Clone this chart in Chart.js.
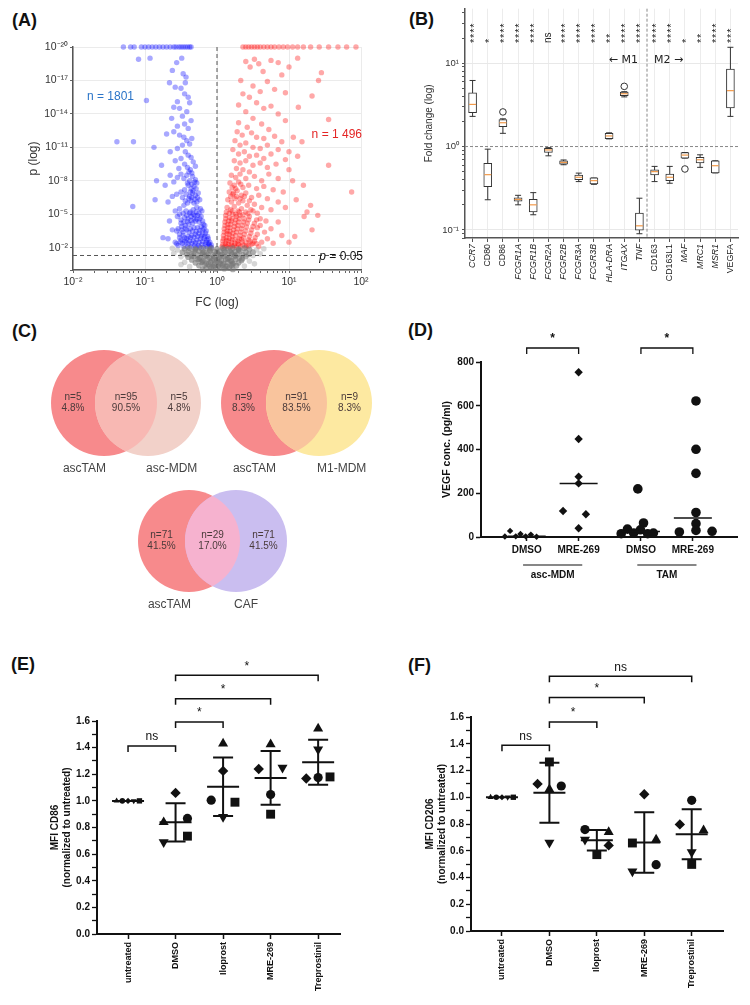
<!DOCTYPE html>
<html>
<head>
<meta charset="utf-8">
<script src="https://cdn.jsdelivr.net/npm/chart.js@4.4.0/dist/chart.umd.min.js"></script>
<style>
  body { margin: 0; background: #fff; width: 750px; height: 1005px; position: relative; overflow: hidden; }
  canvas { position: absolute; }
  .lbl { position: absolute; font: bold 18px "Liberation Sans", Arial, sans-serif; color: #111; line-height: 18px; }
</style>
</head>
<body>
<div class="lbl" style="left:12px;top:11px">(A)</div>
<div class="lbl" style="left:409px;top:10px">(B)</div>
<div class="lbl" style="left:12px;top:322px">(C)</div>
<div class="lbl" style="left:408px;top:321px">(D)</div>
<div class="lbl" style="left:11px;top:655px">(E)</div>
<div class="lbl" style="left:408px;top:656px">(F)</div>

<canvas id="cA" width="375" height="310" style="left:0;top:0"></canvas>
<canvas id="cB" width="375" height="310" style="left:375px;top:0"></canvas>
<canvas id="cC" width="375" height="320" style="left:0;top:310px"></canvas>
<canvas id="cD" width="375" height="280" style="left:375px;top:310px"></canvas>
<canvas id="cE" width="375" height="375" style="left:0;top:630px"></canvas>
<canvas id="cF" width="375" height="375" style="left:375px;top:630px"></canvas>

<script>
// ---------- (A) volcano plot, points as [log10 FC, -log10 p] ----------
const bluePoints = [
  [-1.3,20],[-1.2,20],[-1.15,20],[-1.05,20],[-1.0,20],[-0.95,20],[-0.9,20],[-0.85,20],[-0.8,20],[-0.75,20],[-0.7,20],
  [-0.65,20],[-0.6,20],[-0.57,20],[-0.53,20],[-0.5,20],[-0.47,20],[-0.44,20],[-0.41,20],[-0.38,20],[-0.36,20],
  [-1.09,18.9],[-0.93,19],[-0.49,19],[-0.56,18.6],[-0.62,17.9],[-0.47,17.6],[-0.43,17.3],[-0.44,16.8],[-0.58,16.4],
  [-0.5,16.3],[-0.66,16.8],[-0.45,15.8],[-0.4,15.5],[-0.55,15.1],[-0.38,15.0],[-0.98,15.2],[-0.6,14.6],[-0.52,14.5],
  [-0.42,14.2],[-0.48,13.8],[-0.63,13.6],[-0.36,13.4],[-0.45,13.1],[-0.55,12.9],[-0.4,12.7],
  [-1.39,11.5],[-1.16,11.5],[-0.875,11],[-0.77,9.4],[-0.7,12.2],[-0.6,12.4],[-0.52,12.1],[-0.46,11.9],[-0.42,11.6],
  [-0.38,11.3],[-0.35,11.8],[-0.48,11.2],[-0.55,10.9],[-0.65,10.6],[-0.44,10.6],[-0.4,10.3],[-0.36,10.1],[-0.5,10.0],
  [-0.58,9.8],[-0.33,9.7],[-0.45,9.5],[-0.41,9.2],[-0.37,9.0],[-0.53,9.1],[-0.3,9.3],
  [-0.84,8],[-0.86,6.3],[-1.17,5.7],[-0.72,7.6],[-0.65,8.5],[-0.6,7.9],[-0.55,8.3],[-0.5,8.6],[-0.46,8.2],[-0.42,8.5],
  [-0.38,8.0],[-0.34,8.4],[-0.3,8.1],[-0.28,7.8],[-0.32,7.5],[-0.36,7.3],[-0.4,7.6],[-0.45,7.2],[-0.5,7.0],[-0.56,6.8],
  [-0.62,6.6],[-0.68,6.1],[-0.48,6.5],[-0.43,6.8],[-0.38,6.6],[-0.34,6.9],[-0.3,6.7],[-0.26,6.9],[-0.24,6.3],[-0.28,6.1],
  [-0.32,6.0],[-0.36,6.2],[-0.41,6.0],[-0.46,5.8],[-0.52,5.5],[-0.58,5.3],[-0.28,5.6],[-0.23,5.5],[-0.33,5.4],[-0.38,5.1],
  [-0.43,5.3],
  [-0.75,2.9],[-0.68,2.8],[-0.62,3.6],[-0.66,4.4],[-0.55,4.8],[-0.5,4.5],[-0.45,4.7],[-0.4,4.6],[-0.36,4.8],[-0.31,4.9],
  [-0.27,4.9],[-0.22,4.8],[-0.2,4.4],[-0.25,4.3],[-0.3,4.4],[-0.34,4.2],[-0.39,4.1],[-0.44,4.0],[-0.49,3.9],[-0.56,3.5],
  [-0.52,3.2],[-0.47,3.4],[-0.42,3.6],[-0.37,3.7],[-0.32,3.8],[-0.27,3.8],[-0.22,3.9],[-0.18,3.7],[-0.16,3.3],[-0.2,3.2],
  [-0.25,3.3],[-0.3,3.2],[-0.35,3.1],[-0.4,3.0],[-0.45,2.9],[-0.5,2.7],[-0.58,2.5],[-0.54,2.2],[-0.48,2.4],[-0.43,2.5],
  [-0.38,2.6],[-0.33,2.6],[-0.28,2.7],[-0.23,2.8],[-0.18,2.8],[-0.14,2.7],[-0.12,2.4],[-0.16,2.3],[-0.21,2.3],[-0.26,2.2],
  [-0.31,2.2],[-0.36,2.1],[-0.41,2.1],[-0.46,2.1],[-0.1,2.1],[-0.08,2.05],[-0.14,2.1],[-0.19,2.05],[-0.24,2.05],[-0.29,2.05],
  [-0.52,5.0],[-0.47,5.1],[-0.42,4.9],[-0.37,5.2],[-0.33,5.0],[-0.29,5.2],[-0.25,5.1],[-0.21,5.3],
  [-0.5,4.2],[-0.46,4.3],[-0.41,4.35],[-0.36,4.45],[-0.32,4.6],[-0.28,4.55],[-0.24,4.6],[-0.19,4.1],[-0.17,4.0],
  [-0.54,3.7],[-0.49,3.6],[-0.44,3.75],[-0.39,3.4],[-0.34,3.5],[-0.29,3.45],[-0.24,3.55],[-0.2,3.6],[-0.15,3.5],[-0.13,3.0],
  [-0.52,2.9],[-0.47,3.1],[-0.42,2.8],[-0.37,2.9],[-0.32,2.95],[-0.27,3.0],[-0.22,3.05],[-0.17,3.0],[-0.12,2.8],[-0.1,2.5],
  [-0.56,2.35],[-0.51,2.5],[-0.45,2.6],[-0.4,2.35],[-0.35,2.4],[-0.3,2.45],[-0.25,2.5],[-0.2,2.55],[-0.15,2.5],[-0.11,2.3],
  [-0.08,2.25],[-0.44,6.2],[-0.39,6.4],[-0.35,6.5],[-0.31,6.35],[-0.27,6.5],[-0.33,7.1],[-0.29,7.3],[-0.37,7.0],[-0.41,7.8],
  [-0.35,7.7],[-0.31,7.9],[-0.39,8.8],[-0.35,8.7]
];
const redPoints = [
  [0.36,20],[0.4,20],[0.44,20],[0.48,20],[0.52,20],[0.56,20],[0.6,20],[0.65,20],[0.7,20],[0.75,20],[0.8,20],[0.86,20],
  [0.92,20],[0.98,20],[1.05,20],[1.12,20],[1.2,20],[1.3,20],[1.42,20],[1.55,20],[1.68,20],[1.8,20],[1.93,20],
  [0.4,18.7],[0.52,18.9],[0.46,18.2],[0.58,18.5],[0.75,18.8],[0.85,18.6],[0.64,17.8],[0.9,17.5],[1.0,18.2],[1.12,19.0],
  [1.45,17.7],[1.41,17.0],[0.33,17.0],[0.5,16.5],[0.7,16.9],[0.8,16.2],[0.6,16.0],[0.36,15.8],[0.45,15.5],[0.95,15.9],
  [1.32,15.6],[0.55,15.0],[0.3,14.8],[0.65,14.5],[0.75,14.7],[1.13,14.6],[0.4,14.2],[0.85,14.0],[1.55,13.5],[0.5,13.6],
  [0.3,13.2],[0.62,13.1],[0.95,13.4],[0.42,12.8],[0.72,12.6],
  [1.06,11.9],[1.18,11.5],[1.55,9.4],[0.28,12.4],[0.35,12.1],[0.48,12.3],[0.55,11.9],[0.65,11.8],[0.8,12.0],[0.9,11.5],
  [0.25,11.6],[0.32,11.2],[0.4,11.4],[0.5,11.0],[0.6,10.9],[0.7,11.2],[0.85,10.8],[1.0,10.6],[0.22,10.8],[0.3,10.4],
  [0.38,10.6],[0.45,10.2],[0.55,10.3],[0.65,10.0],[0.75,10.4],[0.95,9.9],[1.12,10.2],[0.24,9.8],[0.32,9.6],[0.4,9.8],
  [0.5,9.4],[0.6,9.6],[0.7,9.2],[0.82,9.5],[1.0,9.0],[0.27,9.1],[0.36,9.0],[0.45,8.8],
  [1.87,7.0],[0.2,8.5],[0.26,8.3],[0.32,8.6],[0.4,8.2],[0.52,8.4],[0.62,8.0],[0.72,8.6],[0.85,8.2],[1.05,8.0],[1.2,7.6],
  [0.18,7.8],[0.24,7.6],[0.3,7.9],[0.36,7.4],[0.44,7.6],[0.55,7.3],[0.65,7.5],[0.78,7.2],[0.92,7.0],[0.17,7.0],[0.22,6.8],
  [0.28,7.1],[0.34,6.7],[0.4,6.9],[0.48,6.5],[0.58,6.7],[0.7,6.4],[0.85,6.1],[1.1,6.3],[1.3,5.8],[0.15,6.3],[0.2,6.1],
  [0.25,6.4],[0.3,6.0],[0.36,6.2],[0.42,5.8],[0.52,5.9],[0.62,5.6],[0.75,5.4],[0.95,5.6],[0.14,5.6],[0.19,5.4],[0.24,5.7],
  [0.29,5.3],[0.34,5.5],[0.4,5.2],[0.47,5.4],[0.56,5.1],[1.25,5.2],[1.4,4.9],
  [1.32,3.6],[1.21,4.8],[1.08,3.0],[1.0,2.5],[0.12,4.9],[0.17,4.7],[0.22,5.0],[0.27,4.8],[0.32,4.9],[0.38,4.6],[0.45,4.8],
  [0.55,4.5],[0.68,4.4],[0.85,4.3],[0.11,4.3],[0.15,4.1],[0.2,4.4],[0.25,4.2],[0.3,4.3],[0.35,4.0],[0.42,4.2],[0.5,3.9],
  [0.6,4.0],[0.75,3.7],[0.1,3.7],[0.14,3.5],[0.18,3.8],[0.23,3.6],[0.28,3.7],[0.33,3.4],[0.4,3.5],[0.47,3.3],[0.56,3.2],
  [0.66,3.4],[0.9,3.1],[0.09,3.1],[0.13,2.9],[0.17,3.2],[0.21,3.0],[0.26,3.1],[0.31,2.8],[0.37,2.9],[0.44,2.7],[0.52,2.6],
  [0.62,2.5],[0.78,2.4],[0.08,2.6],[0.12,2.4],[0.16,2.6],[0.2,2.5],[0.25,2.4],[0.3,2.3],[0.35,2.5],[0.41,2.2],[0.48,2.3],
  [0.58,2.1],[0.07,2.1],[0.1,2.05],[0.14,2.1],[0.18,2.05],[0.22,2.1],[0.27,2.05],[0.33,2.1],[0.4,2.05],
  [0.13,5.2],[0.17,5.1],[0.21,5.3],[0.26,5.0],[0.31,5.2],[0.36,4.95],[0.43,5.05],[0.5,5.3],
  [0.12,4.6],[0.16,4.4],[0.21,4.6],[0.26,4.5],[0.31,4.6],[0.37,4.3],[0.44,4.5],[0.52,4.2],[0.6,4.6],
  [0.11,4.0],[0.15,3.8],[0.19,4.1],[0.24,3.9],[0.29,4.0],[0.34,3.7],[0.41,3.85],[0.48,3.6],[0.56,3.8],
  [0.1,3.4],[0.14,3.25],[0.18,3.45],[0.22,3.3],[0.27,3.4],[0.32,3.1],[0.38,3.2],[0.45,3.0],[0.53,2.9],[0.7,2.8],
  [0.09,2.8],[0.13,2.65],[0.17,2.85],[0.21,2.75],[0.25,2.7],[0.29,2.6],[0.34,2.75],[0.4,2.5],[0.46,2.55],[0.55,2.35],
  [0.08,2.3],[0.12,2.2],[0.16,2.3],[0.2,2.25],[0.24,2.2],[0.29,2.35],[0.36,2.25],[0.44,2.15],[0.5,2.4],
  [0.19,6.6],[0.23,6.9],[0.27,6.6],[0.32,6.4],[0.38,6.6],[0.45,6.2],[0.21,7.4],[0.26,7.3],[0.33,7.7]
];
const greyPoints = [
  [-0.45,1.9],[-0.38,1.95],[-0.3,1.9],[-0.22,1.95],[-0.15,1.9],[-0.08,1.95],[0,1.9],[0.08,1.95],[0.15,1.9],[0.22,1.95],
  [0.3,1.9],[0.38,1.95],[0.45,1.85],[-0.48,1.6],[-0.4,1.7],[-0.32,1.65],[-0.25,1.7],[-0.18,1.6],[-0.1,1.7],[-0.03,1.65],
  [0.04,1.7],[0.11,1.6],[0.18,1.7],[0.25,1.65],[0.32,1.7],[0.4,1.6],[0.5,1.6],[-0.42,1.4],[-0.35,1.45],[-0.27,1.35],
  [-0.2,1.45],[-0.13,1.4],[-0.06,1.35],[0.01,1.45],[0.07,1.4],[0.14,1.35],[0.21,1.45],[0.28,1.4],[0.36,1.35],[0.44,1.4],
  [-0.4,1.15],[-0.32,1.2],[-0.24,1.1],[-0.17,1.2],[-0.1,1.1],[-0.04,1.2],[0.03,1.1],[0.1,1.2],[0.17,1.1],[0.24,1.2],
  [0.31,1.1],[0.4,1.2],[-0.35,0.9],[-0.27,0.95],[-0.2,0.85],[-0.13,0.95],[-0.07,0.85],[0,0.95],[0.06,0.85],[0.12,0.95],
  [0.19,0.85],[0.26,0.95],[0.34,0.85],[-0.3,0.65],[-0.22,0.7],[-0.15,0.6],[-0.09,0.7],[-0.03,0.6],[0.03,0.7],[0.09,0.6],
  [0.15,0.7],[0.22,0.6],[0.3,0.65],[-0.25,0.4],[-0.17,0.45],[-0.1,0.35],[-0.04,0.45],[0.02,0.35],[0.08,0.45],[0.14,0.35],
  [0.2,0.42],[0.27,0.38],[-0.15,0.15],[-0.08,0.2],[-0.02,0.1],[0.04,0.2],[0.1,0.12],[0.17,0.18],[-0.2,0.05],[0.22,0.05],
  [-0.3,1.8],[-0.1,1.8],[0.1,1.8],[0.3,1.8],[-0.2,1.55],[0,1.55],[0.2,1.55],[-0.35,1.25],[-0.15,1.3],[0.05,1.3],
  [0.25,1.3],[-0.25,1.0],[-0.05,1.0],[0.15,1.0],[0.35,1.0],[-0.2,0.75],[0,0.8],[0.2,0.8],[-0.12,0.5],[0.05,0.55],
  [0.22,0.5],[-0.05,0.28],[0.12,0.3]
];
const greyLightPoints = [
  [-0.55,1.8],[0.55,1.8],[-0.5,1.2],[0.5,1.3],[-0.6,1.5],[0.6,1.45],[-0.45,0.7],[0.45,0.8],[-0.38,0.3],[0.38,0.35],
  [0.65,1.9],[-0.62,1.95],[0.52,0.55],[-0.5,0.5]
];
const volcanoCounts = { down: 1801, up: 1496 };

// ---------- (B) box plots ----------
const genes = ['CCR7','CD80','CD86','FCGR1A','FCGR1B','FCGR2A','FCGR2B','FCGR3A','FCGR3B','HLA-DRA','ITGAX','TNF',
               'CD163','CD163L1','MAF','MRC1','MSR1','VEGFA'];
const uprightGenes = ['CD80','CD86','CD163','CD163L1','VEGFA'];
const boxLow  = [2.3, 0.23, 1.44, 0.20, 0.152, 0.774, 0.605, 0.38, 0.352, 1.235, 3.94, 0.09, 0.38, 0.363, 0.726, 0.563, 0.482, 2.3];
const boxQ1   = [2.54, 0.33, 1.73, 0.221, 0.164, 0.85, 0.616, 0.401, 0.356, 1.245, 4.08, 0.099, 0.456, 0.39, 0.726, 0.634, 0.482, 2.91];
const boxMed  = [3.2, 0.46, 1.93, 0.232, 0.20, 0.91, 0.645, 0.428, 0.39, 1.34, 4.3, 0.112, 0.50, 0.428, 0.79, 0.694, 0.589, 4.68];
const boxQ3   = [4.4, 0.63, 2.1, 0.243, 0.232, 0.955, 0.675, 0.456, 0.42, 1.44, 4.5, 0.159, 0.527, 0.468, 0.848, 0.74, 0.675, 8.5];
const boxHigh = [6.2, 0.93, 2.15, 0.26, 0.28, 0.97, 0.69, 0.48, 0.42, 1.46, 4.55, 0.24, 0.578, 0.578, 0.848, 0.796, 0.675, 15.5];
const outlierGenes = ['CD86','ITGAX','MAF'];
const outlierVals  = [2.6, 5.27, 0.538];
const geneSig = ['****','*','****','****','****','ns','****','****','****','**','****','****',
                 '****','****','*','**','****','***'];

// ---------- (C) Venn diagrams ----------
const vennNames  = [['ascTAM','asc-MDM'], ['ascTAM','M1-MDM'], ['ascTAM','CAF']];
const vennCounts = [[5, 95, 5], [9, 91, 9], [71, 29, 71]];
const vennPct    = [[4.8, 90.5, 4.8], [8.3, 83.5, 8.3], [41.5, 17.0, 41.5]];

// ---------- (D) VEGF ----------
const dCats = ['DMSO','MRE-269','DMSO','MRE-269'];
const dGroups = ['asc-MDM','TAM'];
const ascDmso = [2, 28, 3, 14, 3, 11, 1];
const ascMre  = [753, 448, 276, 245, 119, 104, 40];
const tamDmso = [220, 64, 36, 15, 18, 33, 15, 18];
const tamMre  = [622, 401, 291, 112, 61, 30, 23, 26];
const ascDmsoJit = [-0.42, -0.32, -0.21, -0.12, -0.02, 0.08, 0.19];
const ascMreJit  = [0, 0, 0, 0, -0.3, 0.14, 0];
const tamDmsoJit = [-0.06, 0.05, -0.26, -0.38, -0.14, -0.01, 0.13, 0.24];
const tamMreJit  = [0.06, 0.06, 0.06, 0.06, 0.06, 0.06, -0.26, 0.37];

// ---------- (E) / (F) MFI per donor ----------
const treatments = ['untreated','DMSO','Iloprost','MRE-269','Treprostinil'];
const triE  = [1.0, 0.84, 1.43, 1.425, 1.543];
const circE = [1.0, 0.868, 1.005, 1.048, 1.175];
const diamE = [1.0, 1.06, 1.225, 1.24, 1.168];
const dtriE = [1.0, 0.69, 0.88, 1.25, 1.386];
const sqE   = [1.0, 0.735, 0.99, 0.9, 1.18];
const triF  = [1.0, 1.059, 0.74, 0.683, 0.753];
const circF = [1.0, 1.084, 0.758, 0.496, 0.977];
const diamF = [1.0, 1.10, 0.64, 1.022, 0.797];
const dtriF = [1.0, 0.66, 0.683, 0.446, 0.59];
const sqF   = [1.0, 1.264, 0.571, 0.658, 0.498];
const jitE = { tri: [-0.24,-0.25,0,0,0], circ: [-0.12,0.25,-0.25,0,0], diam: [0,0,0,-0.25,-0.25],
               dtri: [0.12,-0.25,0,0.25,0], sq: [0.24,0.25,0.25,0,0.25] };
const jitF = { tri: [-0.24,0,0.25,0.25,0.25], circ: [-0.12,0.25,-0.25,0.25,0], diam: [0,-0.25,0.25,0,-0.25],
               dtri: [0.12,0,-0.25,-0.25,0], sq: [0.24,0,0,-0.25,0] };
const sigPairs = [[1,2],[2,3],[2,4],[2,5]];
const sigE = ['ns','*','*','*'];
const sigF = ['ns','*','*','ns'];

// ---------- helpers ----------
Chart.defaults.font.family = '"Liberation Sans", Arial, sans-serif';
Chart.defaults.animation = false;
Chart.defaults.responsive = false;
Chart.defaults.devicePixelRatio = 1;
Chart.defaults.plugins.legend.display = false;
Chart.defaults.plugins.tooltip.enabled = false;
Chart.defaults.events = [];

const SUP = {'-':'⁻','0':'⁰','1':'¹','2':'²','3':'³','4':'⁴','5':'⁵','6':'⁶','7':'⁷','8':'⁸','9':'⁹'};
const pow10 = e => '10' + String(e).split('').map(c => SUP[c]).join('');
const isDecade = v => Math.abs(Math.log10(v) - Math.round(Math.log10(v))) < 1e-6;
const fixW = w => s => { s.width = w; };
const fixH = h => s => { s.height = h; };
const toXY = pts => pts.map(p => ({ x: Math.pow(10, p[0]), y: Math.pow(10, -p[1]) }));
const clear = 'rgba(0,0,0,0)';

function logTicks(e0, e1, lo, hi) {
  const t = [];
  for (let e = e0; e <= e1; e++) for (let m = 1; m <= 9; m++) {
    const v = m * Math.pow(10, e);
    if (v >= lo * 0.999 && v <= hi * 1.001) t.push({ value: v });
  }
  return t;
}
function meanSd(a) {
  const m = a.reduce((s, v) => s + v, 0) / a.length;
  const sd = Math.sqrt(a.reduce((s, v) => s + (v - m) * (v - m), 0) / (a.length - 1));
  return [m, sd];
}
function median(a) {
  const s = a.slice().sort((x, y) => x - y), n = s.length;
  return n % 2 ? s[(n - 1) / 2] : (s[n / 2 - 1] + s[n / 2]) / 2;
}
function bracket(ctx, x1, x2, y, label, font) {
  ctx.beginPath();
  ctx.moveTo(x1, y + 6); ctx.lineTo(x1, y); ctx.lineTo(x2, y); ctx.lineTo(x2, y + 6);
  ctx.stroke();
  ctx.font = font;
  ctx.textAlign = 'center';
  ctx.textBaseline = 'bottom';
  ctx.fillText(label, (x1 + x2) / 2, y - 3);
}
const dot = (pts, color, r) => ({ data: toXY(pts), pointRadius: r, pointBackgroundColor: color,
                                  pointBorderWidth: 0, backgroundColor: color, clip: 4 });

// ---------- (A) ----------
new Chart(document.getElementById('cA'), {
  type: 'scatter',
  data: { datasets: [
    dot(greyLightPoints, 'rgba(165,165,165,0.45)', 2.8),
    dot(greyPoints, 'rgba(118,118,118,0.6)', 2.9),
    dot(bluePoints, 'rgba(15,15,255,0.36)', 2.7),
    dot(redPoints, 'rgba(255,15,15,0.36)', 2.7)
  ]},
  options: {
    layout: { padding: { left: 26, top: 47, right: 14, bottom: 0 } },
    scales: {
      x: {
        type: 'logarithmic', min: 0.01, max: 100,
        afterFit: fixH(40),
        afterBuildTicks: s => { s.ticks = logTicks(-2, 2, 0.01, 100); },
        grid: { color: c => isDecade(c.tick.value) ? '#ebebeb' : clear, tickColor: '#666', tickLength: 3 },
        border: { color: '#555', width: 1.5 },
        ticks: { callback: v => isDecade(v) ? pow10(Math.round(Math.log10(v))) : '', autoSkip: false,
                 maxRotation: 0, color: '#333', font: { size: 10.5 }, padding: 3 },
        title: { display: true, text: 'FC (log)', color: '#333', font: { size: 12 }, padding: 0 }
      },
      y: {
        type: 'logarithmic', reverse: true, min: 1e-20, max: 1,
        afterFit: fixW(47),
        afterBuildTicks: s => { s.ticks = [-20, -17, -14, -11, -8, -5, -2, 0].map(e => ({ value: Math.pow(10, e) })); },
        grid: { color: '#ebebeb', tickColor: '#666', tickLength: 3 },
        border: { color: '#555', width: 1.5 },
        ticks: { callback: v => v >= 0.5 ? '' : pow10(Math.round(Math.log10(v))), autoSkip: false,
                 color: '#333', font: { size: 10.5 }, padding: 2 },
        title: { display: true, text: 'p (log)', color: '#333', font: { size: 12 }, padding: 0 }
      }
    }
  },
  plugins: [{
    id: 'volcanoNotes',
    afterDatasetsDraw(chart) {
      const { ctx, chartArea: a, scales: { x, y } } = chart;
      ctx.save();
      ctx.strokeStyle = '#555'; ctx.lineWidth = 1; ctx.setLineDash([4, 3]);
      const x1 = x.getPixelForValue(1), yp = y.getPixelForValue(0.05);
      ctx.beginPath(); ctx.moveTo(x1, a.top); ctx.lineTo(x1, a.bottom); ctx.stroke();
      ctx.beginPath(); ctx.moveTo(a.left, yp); ctx.lineTo(a.right, yp); ctx.stroke();
      ctx.setLineDash([]);
      ctx.font = '12px "Liberation Sans", Arial, sans-serif';
      ctx.textBaseline = 'middle';
      ctx.fillStyle = '#2a74c8'; ctx.textAlign = 'left';
      ctx.fillText('n = ' + volcanoCounts.down, a.left + 14, a.top + 50);
      ctx.fillStyle = '#e42525'; ctx.textAlign = 'right';
      ctx.fillText('n = ' + String(volcanoCounts.up).replace(/^(\d)(\d{3})$/, '$1 $2'), a.right + 1, a.top + 88);
      ctx.fillStyle = '#111';
      const rest = ' = 0.05';
      const w = ctx.measureText(rest).width;
      ctx.fillText(rest, a.right + 2, yp + 1);
      ctx.font = 'italic 12px "Liberation Sans", Arial, sans-serif';
      ctx.fillText('p', a.right + 2 - w, yp + 1);
      ctx.restore();
    }
  }]
});

// ---------- (B) ----------
new Chart(document.getElementById('cB'), {
  type: 'bar',
  data: {
    labels: genes,
    datasets: [
      { data: genes.map((g, i) => [boxQ1[i], boxQ3[i]]), backgroundColor: '#fff', borderColor: '#333',
        borderWidth: 1, borderSkipped: false, barThickness: 8 },
      { type: 'scatter', data: outlierGenes.map((g, i) => ({ x: g, y: outlierVals[i] })),
        pointRadius: 3.3, pointBackgroundColor: '#fff', pointBorderColor: '#333', pointBorderWidth: 1 }
    ]
  },
  options: {
    layout: { padding: { left: 48, top: 7, right: 12, bottom: 0 } },
    scales: {
      x: {
        offset: true, afterFit: fixH(72),
        grid: { offset: false, color: '#ececec', tickColor: '#555', tickLength: 4 },
        border: { color: '#555', width: 1.5 },
        ticks: { autoSkip: false, minRotation: 90, maxRotation: 90, color: '#222', padding: 2,
                 font: c => ({ size: 8.8, style: uprightGenes.includes(genes[c.index]) ? 'normal' : 'italic' }) }
      },
      y: {
        type: 'logarithmic', min: 0.08, max: 45, afterFit: fixW(42),
        afterBuildTicks: s => { s.ticks = logTicks(-2, 1, 0.08, 45); },
        grid: { color: c => (isDecade(c.tick.value) && Math.abs(c.tick.value - 1) > 1e-6) ? '#e8e8e8' : clear,
                tickColor: '#555', tickLength: 3 },
        border: { color: '#555', width: 1.5 },
        ticks: { callback: v => isDecade(v) ? pow10(Math.round(Math.log10(v))) : '', autoSkip: false,
                 color: '#333', font: { size: 9.5 }, padding: 3 },
        title: { display: true, text: 'Fold change (log)', color: '#333', font: { size: 10 }, padding: 0 }
      }
    }
  },
  plugins: [{
    id: 'boxParts',
    beforeDatasetsDraw(chart) {
      const { ctx, scales: { x, y } } = chart;
      ctx.save();
      ctx.strokeStyle = '#333'; ctx.lineWidth = 1;
      genes.forEach((g, i) => {
        const px = x.getPixelForValue(i);
        ctx.beginPath();
        ctx.moveTo(px, y.getPixelForValue(boxHigh[i])); ctx.lineTo(px, y.getPixelForValue(boxLow[i]));
        ctx.moveTo(px - 3, y.getPixelForValue(boxHigh[i])); ctx.lineTo(px + 3, y.getPixelForValue(boxHigh[i]));
        ctx.moveTo(px - 3, y.getPixelForValue(boxLow[i])); ctx.lineTo(px + 3, y.getPixelForValue(boxLow[i]));
        ctx.stroke();
      });
      ctx.restore();
    },
    afterDatasetsDraw(chart) {
      const { ctx, chartArea: a, scales: { x, y } } = chart;
      ctx.save();
      ctx.strokeStyle = '#f29a4a'; ctx.lineWidth = 1.2;
      genes.forEach((g, i) => {
        const px = x.getPixelForValue(i), py = y.getPixelForValue(boxMed[i]);
        ctx.beginPath(); ctx.moveTo(px - 3.5, py); ctx.lineTo(px + 3.5, py); ctx.stroke();
      });
      ctx.strokeStyle = '#888'; ctx.lineWidth = 1; ctx.setLineDash([3, 2]);
      const y1 = y.getPixelForValue(1);
      ctx.beginPath(); ctx.moveTo(a.left, y1); ctx.lineTo(a.right, y1); ctx.stroke();
      const xm = (x.getPixelForValue(11) + x.getPixelForValue(12)) / 2;
      ctx.beginPath(); ctx.moveTo(xm, a.top); ctx.lineTo(xm, a.bottom); ctx.stroke();
      ctx.setLineDash([]);
      ctx.fillStyle = '#222';
      ctx.font = '11px "DejaVu Sans", sans-serif';
      ctx.textBaseline = 'middle';
      ctx.textAlign = 'right'; ctx.fillText('← M1', xm - 9, 60);
      ctx.textAlign = 'left'; ctx.fillText('M2 →', xm + 7, 60);
      geneSig.forEach((s, i) => {
        const px = x.getPixelForValue(i);
        ctx.save();
        ctx.translate(px + (s === 'ns' ? 0 : 2), 43);
        ctx.rotate(-Math.PI / 2);
        ctx.textAlign = 'left';
        ctx.font = s === 'ns' ? '10px "Liberation Sans", Arial, sans-serif' : '11px "Liberation Sans", Arial, sans-serif';
        if (s !== 'ns') ctx.letterSpacing = '0.8px';
        ctx.fillText(s, 0, 0);
        ctx.restore();
      });
      ctx.restore();
    }
  }]
});

// ---------- (C) ----------
const vennLayout = [
  { x1: 104, x2: 148, y: 403, r: 53 },
  { x1: 274, x2: 319, y: 403, r: 53 },
  { x1: 189, x2: 236, y: 541, r: 51 }
];
const vennColors = [
  ['#f78a8c', '#f2d1c9', '#f8b8b3'],
  ['#f78a8c', '#fde9a1', '#f9c49d'],
  ['#f78a8c', '#cabef0', '#f6b2cf']
];
new Chart(document.getElementById('cC'), {
  type: 'scatter',
  data: { datasets: vennLayout.map(L => ({
    data: [{ x: L.x1, y: L.y }, { x: L.x2, y: L.y }], pointRadius: 0
  })) },
  options: {
    layout: { padding: 0 },
    scales: { x: { display: false, min: 0, max: 375 }, y: { display: false, min: 310, max: 630, reverse: true } }
  },
  plugins: [{
    id: 'venn',
    afterDatasetsDraw(chart) {
      const { ctx, scales: { x, y } } = chart;
      vennLayout.forEach((L, k) => {
        const ax = x.getPixelForValue(L.x1), bx = x.getPixelForValue(L.x2), cy = y.getPixelForValue(L.y);
        const r = L.r;
        const circle = px => { ctx.beginPath(); ctx.arc(px, cy, r, 0, Math.PI * 2); };
        ctx.save();
        circle(ax); ctx.fillStyle = vennColors[k][0]; ctx.fill();
        circle(bx); ctx.fillStyle = vennColors[k][1]; ctx.fill();
        circle(ax); ctx.clip();
        circle(bx); ctx.fillStyle = vennColors[k][2]; ctx.fill();
        ctx.restore();
        const cx = [((ax - r) + (bx - r)) / 2, ((bx - r) + (ax + r)) / 2, ((ax + r) + (bx + r)) / 2];
        ctx.save();
        ctx.fillStyle = '#4a3a3a';
        ctx.font = '10px "Liberation Sans", Arial, sans-serif';
        ctx.textAlign = 'center'; ctx.textBaseline = 'middle';
        cx.forEach((px, j) => {
          ctx.fillText('n=' + vennCounts[k][j], px, cy - 5.5);
          ctx.fillText(vennPct[k][j].toFixed(1) + '%', px, cy + 5.5);
        });
        ctx.fillStyle = '#444';
        ctx.font = '12px "Liberation Sans", Arial, sans-serif';
        ctx.textAlign = 'right'; ctx.fillText(vennNames[k][0], ax + 2, cy + r + 12.5);
        ctx.textAlign = 'left'; ctx.fillText(vennNames[k][1], bx - 2, cy + r + 12.5);
        ctx.restore();
      });
    }
  }]
});

// ---------- (D) ----------
const groupX = [1, 2, 3.2, 4.2];
const boldTick = { weight: 'bold', size: 10 };
const blackDots = (vals, jit, gx, style, r) => ({
  data: vals.map((v, i) => ({ x: gx + jit[i], y: v })), pointStyle: style, pointRadius: r,
  pointBackgroundColor: '#111', pointBorderWidth: 0, clip: 6
});
new Chart(document.getElementById('cD'), {
  type: 'scatter',
  data: { datasets: [
    blackDots(ascDmso, ascDmsoJit, groupX[0], 'rectRot', 3.2),
    blackDots(ascMre, ascMreJit, groupX[1], 'rectRot', 4.2),
    blackDots(tamDmso, tamDmsoJit, groupX[2], 'circle', 4.8),
    blackDots(tamMre, tamMreJit, groupX[3], 'circle', 4.8)
  ]},
  options: {
    layout: { padding: { left: 66, top: 52, right: 13, bottom: 0 } },
    scales: {
      x: {
        type: 'linear', min: 0.12, max: 5.05, afterFit: fixH(53),
        afterBuildTicks: s => { s.ticks = groupX.map(v => ({ value: v })); },
        ticks: { callback: v => dCats[groupX.indexOf(v)], autoSkip: false, maxRotation: 0, font: boldTick, color: '#111', padding: 3 },
        grid: { drawOnChartArea: false, tickLength: 4, tickColor: '#111', tickWidth: 1.5 },
        border: { color: '#111', width: 2 }
      },
      y: {
        min: 0, max: 800, afterFit: fixW(40),
        ticks: { stepSize: 200, font: boldTick, color: '#111', padding: 2 },
        grid: { drawOnChartArea: false, tickLength: 5, tickColor: '#111', tickWidth: 1.5 },
        border: { color: '#111', width: 2 },
        title: { display: true, text: 'VEGF conc. (pg/ml)', font: { weight: 'bold', size: 10.5 }, color: '#111', padding: 0 }
      }
    }
  },
  plugins: [{
    id: 'vegfParts',
    afterDatasetsDraw(chart) {
      const { ctx, chartArea: a, scales: { x, y } } = chart;
      ctx.save();
      ctx.strokeStyle = '#111'; ctx.fillStyle = '#111'; ctx.lineWidth = 1.5;
      [ascDmso, ascMre, tamDmso, tamMre].forEach((arr, i) => {
        const px = x.getPixelForValue(groupX[i]), py = y.getPixelForValue(median(arr));
        ctx.beginPath(); ctx.moveTo(px - 19, py); ctx.lineTo(px + 19, py); ctx.stroke();
      });
      ctx.lineWidth = 1.3;
      const yb = y.getPixelForValue(864);
      bracket(ctx, x.getPixelForValue(groupX[0]), x.getPixelForValue(groupX[1]), yb, '*', 'bold 12px "Liberation Sans", Arial, sans-serif');
      bracket(ctx, x.getPixelForValue(groupX[2]), x.getPixelForValue(groupX[3]), yb, '*', 'bold 12px "Liberation Sans", Arial, sans-serif');
      ctx.lineWidth = 1.2;
      ctx.font = 'bold 10px "Liberation Sans", Arial, sans-serif';
      ctx.textAlign = 'center'; ctx.textBaseline = 'middle';
      dGroups.forEach((g, k) => {
        const c = (groupX[2 * k] + groupX[2 * k + 1]) / 2;
        const l = x.getPixelForValue(c - 0.57), r = x.getPixelForValue(c + 0.57);
        ctx.beginPath(); ctx.moveTo(l, a.bottom + 28); ctx.lineTo(r, a.bottom + 28); ctx.stroke();
        ctx.fillText(g, x.getPixelForValue(c), a.bottom + 38);
      });
      ctx.restore();
    }
  }]
});

// ---------- (E) and (F) ----------
function donorSets(vals, jit) {
  const shapes = [
    { key: 'tri',  v: vals[0], style: 'triangle', rot: 0,   r: 5.8 },
    { key: 'circ', v: vals[1], style: 'circle',   rot: 0,   r: 4.6 },
    { key: 'diam', v: vals[2], style: 'rectRot',  rot: 0,   r: 5.2 },
    { key: 'dtri', v: vals[3], style: 'triangle', rot: 180, r: 5.8 },
    { key: 'sq',   v: vals[4], style: 'rect',     rot: 0,   r: 6.3 }
  ];
  return shapes.map(s => ({
    data: s.v.map((v, t) => ({ x: t + 1 + jit[s.key][t], y: v })),
    pointStyle: s.style, pointRotation: s.rot,
    pointRadius: c => c.dataIndex === 0 ? s.r * 0.6 : s.r,
    pointBackgroundColor: '#111', pointBorderWidth: 0, clip: 8
  }));
}
function mfiChart(id, vals, jit, sig, bracketVals, title, pad, w, h, xmax) {
  new Chart(document.getElementById(id), {
    type: 'scatter',
    data: { datasets: donorSets(vals, jit) },
    options: {
      layout: { padding: pad },
      scales: {
        x: {
          type: 'linear', min: 0.347, max: xmax, afterFit: fixH(h),
          afterBuildTicks: s => { s.ticks = treatments.map((t, i) => ({ value: i + 1 })); },
          ticks: { callback: v => treatments[Math.round(v) - 1], autoSkip: false, minRotation: 90, maxRotation: 90,
                   font: { weight: 'bold', size: 9 }, color: '#111', padding: 3 },
          grid: { drawOnChartArea: false, tickLength: 5, tickColor: '#111', tickWidth: 1.5 },
          border: { color: '#111', width: 2 }
        },
        y: {
          min: 0, max: 1.6, afterFit: fixW(w),
          ticks: { stepSize: 0.1, autoSkip: false, callback: v => Math.round(v * 10) % 2 === 0 ? v.toFixed(1) : '',
                   font: { weight: 'bold', size: 10 }, color: '#111', padding: 2 },
          grid: { drawOnChartArea: false, tickLength: 5, tickColor: '#111', tickWidth: 1.3 },
          border: { color: '#111', width: 2 },
          title: { display: true, text: title, font: { weight: 'bold', size: 10 }, color: '#111', padding: 0 }
        }
      }
    },
    plugins: [{
      id: 'meanSdBrackets',
      afterDatasetsDraw(chart) {
        const { ctx, scales: { x, y } } = chart;
        ctx.save();
        ctx.strokeStyle = '#111'; ctx.fillStyle = '#111'; ctx.lineWidth = 2;
        treatments.forEach((t, i) => {
          const [m, sd] = meanSd(vals.map(d => d[i]));
          const px = x.getPixelForValue(i + 1);
          const ym = y.getPixelForValue(m), yt = y.getPixelForValue(m + sd), yl = y.getPixelForValue(m - sd);
          ctx.beginPath();
          ctx.moveTo(px - 16, ym); ctx.lineTo(px + 16, ym);
          if (sd > 1e-6) {
            ctx.moveTo(px, yt); ctx.lineTo(px, yl);
            ctx.moveTo(px - 10, yt); ctx.lineTo(px + 10, yt);
            ctx.moveTo(px - 10, yl); ctx.lineTo(px + 10, yl);
          }
          ctx.stroke();
        });
        ctx.lineWidth = 1.5;
        sigPairs.forEach((p, k) => {
          bracket(ctx, x.getPixelForValue(p[0]), x.getPixelForValue(p[1]), y.getPixelForValue(bracketVals[k]),
                  sig[k], '12px "Liberation Sans", Arial, sans-serif');
        });
        ctx.restore();
      }
    }]
  });
}
mfiChart('cE', [triE, circE, diamE, dtriE, sqE], jitE, sigE, [1.413, 1.593, 1.768, 1.943],
         ['MFI CD86', '(normalized to untreated)'], { left: 49, top: 91, right: 35, bottom: 0 }, 48, 71, 5.46);
mfiChart('cF', [triF, circF, diamF, dtriF, sqF], jitF, sigF, [1.388, 1.563, 1.745, 1.904],
         ['MFI CD206', '(normalized to untreated)'], { left: 49, top: 87, right: 27, bottom: 0 }, 47, 74, 5.66);
</script>
</body>
</html>
